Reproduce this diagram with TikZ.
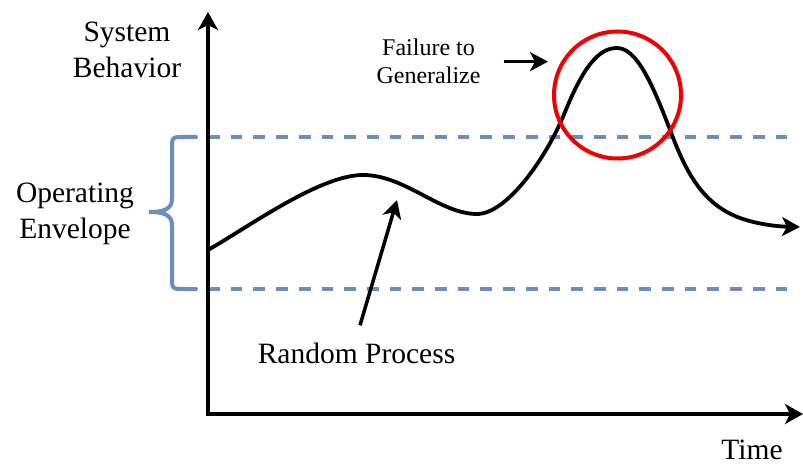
\documentclass[tikz,border=0pt]{standalone}
\usepackage{fontspec}
\setmainfont{Liberation Serif}
\usetikzlibrary{arrows.meta}

\definecolor{envblue}{RGB}{108,142,191}
\definecolor{failred}{RGB}{240,0,0}

\begin{document}
\begin{tikzpicture}[x=1pt,y=-1pt,
  bigtxt/.style={font=\fontsize{29.5}{35.5}\selectfont, inner sep=0pt, align=center},
  smalltxt/.style={font=\fontsize{24}{28}\selectfont, inner sep=0pt, align=center},
  arrowtip/.style={-{Stealth[length=18pt,width=19pt,inset=5pt]}},
  axisline/.style={line width=4pt, {Stealth[length=18pt,width=20pt,inset=5pt]}-{Stealth[length=18pt,width=20pt,inset=5pt]}},
  pointer/.style={line width=3.5pt, arrowtip},
  envline/.style={envblue, line width=4pt, dash pattern=on 11.7pt off 11pt},
  bracket/.style={envblue, line width=4pt, line cap=round},
  process/.style={line width=3.8pt, arrowtip}]

\useasboundingbox (0,0) rectangle (803,465);

% envelope limits
\draw[envline] (208,137) -- (788,137);
\draw[envline] (208,289) -- (788,289);

% curly bracket marking the envelope
\draw[bracket] (196,137) -- (184,137) .. controls (172,137) .. (172,149)
  -- (172,199) .. controls (172,209) and (164,212) .. (149,212)
  .. controls (164,212) and (172,215) .. (172,225)
  -- (172,277) .. controls (172,289) .. (184,289) -- (196,289);

% axes
\draw[axisline] (208,12) -- (208,414) -- (803,414);

% the random process
\coordinate (rptip) at (397,200);
\draw[process] (208,250)
  .. controls (250,226) and (320,175) .. (363,175)
  .. controls (405,175) and (440,214) .. (477,214)
  .. controls (507,214) and (547,157) .. (565,112)
  .. controls (583,68) and (598,48) .. (617,48)
  .. controls (637,48) and (653,85) .. (672,135)
  .. controls (688,177) and (705,205) .. (740,218)
  .. controls (758,224.5) and (778,226.5) .. (800,227);

% region where the process leaves the envelope
\node[draw=failred, circle, line width=4pt, minimum size=127pt, inner sep=0pt] (fail) at (617.5,95) {};

% labels
\node[bigtxt, anchor=north] (sys) at (127,22) {System\\Behavior};
\node[bigtxt, anchor=north] (env) at (75,183) {Operating\\Envelope};
\node[smalltxt, anchor=north] (ftxt) at (428.5,39) {Failure to\\Generalize};
\node[bigtxt, anchor=base] (rp) at (356.5,363) {Random Process};
\node[bigtxt, anchor=base] (time) at (752,459) {Time};

% pointers
\draw[pointer, shorten <=23pt, shorten >=4pt] (ftxt.east) -- (ftxt.east -| fail.west);
\draw[pointer] ([shift={(3.5,-17)}]rp.north) -- (rptip);

\end{tikzpicture}
\end{document}
